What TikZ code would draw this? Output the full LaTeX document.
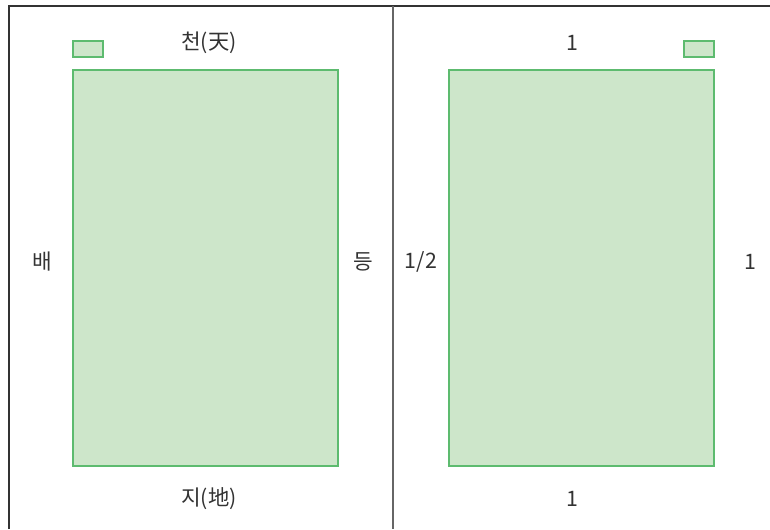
\documentclass[tikz,border=0pt]{standalone}
\usepackage{fontspec}
\setmainfont{Noto Sans CJK KR}
\definecolor{pagefill}{HTML}{CDE6CA}
\definecolor{pageedge}{HTML}{5DBB6F}
\definecolor{rulegray}{HTML}{333333}
\definecolor{foldgray}{HTML}{666666}
\tikzset{every picture/.style={line width=0.75pt}}
\tikzset{
  pagebox/.style={draw=pageedge, fill=pagefill, line width=0.9pt},
  marktext/.style={font=\fontsize{16}{18}\selectfont, text=rulegray, inner sep=0pt}
}

\begin{document}
\begin{tikzpicture}[x=0.75pt,y=0.75pt,yscale=-1,xscale=1]
\useasboundingbox (0,0) rectangle (770,529);

%Straight Lines [frame]
\draw [color=rulegray, line width=1.5]   (9,529) -- (9,6) -- (770,6) ;
%Straight Lines [fold]
\draw [color=foldgray, line width=1.5]   (393,6) -- (393,529) ;

%Shape: Rectangle [left tab]
\draw [pagebox]  (73,41) rectangle (103,57) ;
%Shape: Rectangle [left page]
\draw [pagebox]  (73,70) rectangle (338,466) ;
%Shape: Rectangle [right tab]
\draw [pagebox]  (684,41) rectangle (714,57) ;
%Shape: Rectangle [right page]
\draw [pagebox]  (449,70) rectangle (714,466) ;

% Text Node
\node [marktext] (top) at (209,43) {천(天)};
% Text Node
\node [marktext] (bottom) at (209,499) {지(地)};
% Text Node
\node [marktext] (front) at (42,262) {배};
% Text Node
\node [marktext] (back) at (363,262) {등};
% Text Node
\node [marktext] (half) at (421,262) {1/2};
% Text Node
\node [marktext] (rightone) at (750,262) {1};
% Text Node
\node [marktext] (topone) at (572,43) {1};
% Text Node
\node [marktext] (bottomone) at (572,499) {1};

\end{tikzpicture}
\end{document}
